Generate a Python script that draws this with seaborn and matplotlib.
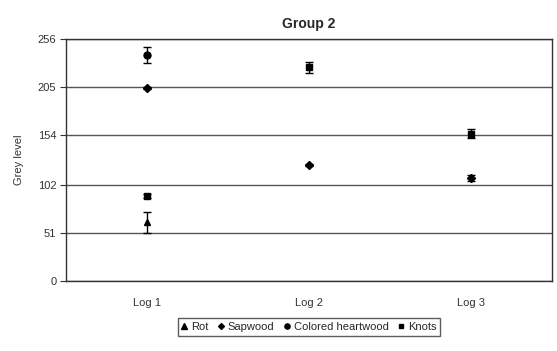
import numpy as np
import matplotlib
matplotlib.use("Agg")
import matplotlib.pyplot as plt
from matplotlib.lines import Line2D
import seaborn as sns

logs = ["Log 1", "Log 2", "Log 3"]
series = ["Rot", "Sapwood", "Colored heartwood", "Knots"]
rot = [62, np.nan, np.nan]
rot_err = [11, np.nan, np.nan]
sapwood = [204, 123, 109]
sapwood_err = [1, 1, 3]
heartwood = [239, np.nan, np.nan]
heartwood_err = [8, np.nan, np.nan]
knots = [90, 226, 156]
knots_err = [2, 6, 5]
yticks = [0, 51, 102, 154, 205, 256]

sns.set_theme(style="white")
plt.rcParams["font.family"] = ["Liberation Sans", "DejaVu Sans"]

fig = plt.figure(figsize=(5.57, 3.51), dpi=100)
ax = fig.add_axes([0.1185, 0.1994, 0.8725, 0.6896])

markers = {"Rot": "^", "Sapwood": "D", "Colored heartwood": "o", "Knots": "s"}
sizes = {"Rot": 5, "Sapwood": 4, "Colored heartwood": 5, "Knots": 4.5}
vals = {"Rot": (rot, rot_err), "Sapwood": (sapwood, sapwood_err),
        "Colored heartwood": (heartwood, heartwood_err), "Knots": (knots, knots_err)}

x = np.arange(len(logs))
for name in series:
    v, e = vals[name]
    ax.errorbar(x, v, yerr=e, fmt=markers[name], color="black", ms=sizes[name],
                ecolor="black", elinewidth=1, capsize=3, capthick=1, zorder=3)

ax.set_xlim(-0.5, 2.5)
ax.set_ylim(0, 256)
ax.set_yticks(yticks)
ax.set_xticks(x)
ax.set_xticklabels(logs)
ax.yaxis.grid(True, color="#555555", lw=1)
ax.set_axisbelow(True)
for s in ax.spines.values():
    s.set_color("#333333")
    s.set_linewidth(1)
ax.tick_params(axis="y", length=4, width=0.8, color="#333333", labelsize=8,
               labelcolor="#333333", left=True, pad=3)
ax.tick_params(axis="x", length=0, labelsize=8, labelcolor="#333333", pad=12)
ax.set_ylabel("Grey level", fontsize=8, color="#333333", labelpad=10)
ax.set_title("Group 2", fontsize=10, fontweight="bold", pad=8)

handles = [Line2D([], [], ls="none", marker=markers[n], color="black",
                  ms=sizes[n] * 0.75) for n in series]
leg = ax.legend(handles, series, loc="upper center", bbox_to_anchor=(0.5, -0.13),
                ncol=4, fontsize=8, frameon=True, fancybox=False,
                edgecolor="#333333", handlelength=0.5, handletextpad=0.35,
                columnspacing=0.9, borderpad=0.35)
leg.get_frame().set_linewidth(1)

fig.savefig("out.png", dpi=100)
